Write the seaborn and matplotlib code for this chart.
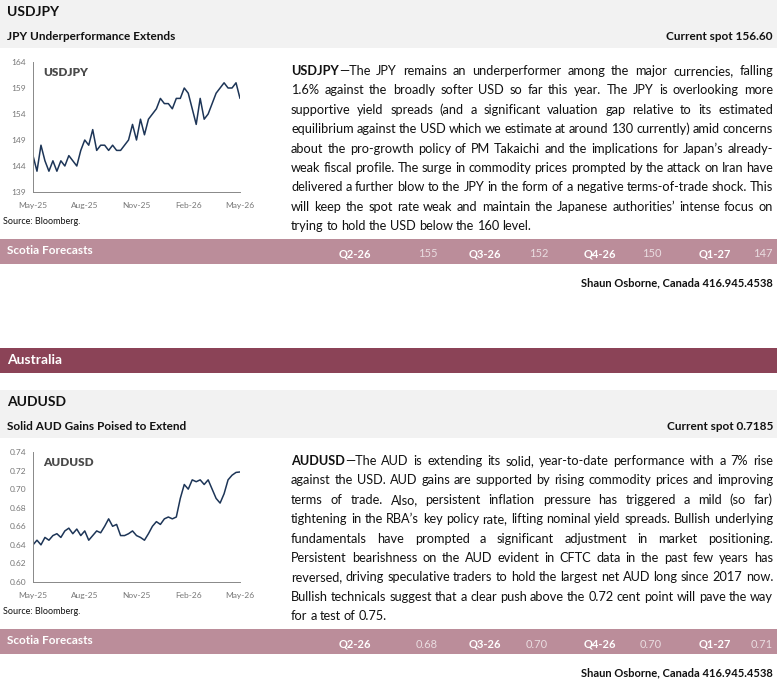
import matplotlib
matplotlib.use("Agg")
import matplotlib.pyplot as plt
import seaborn as sns
import numpy as np
import pandas as pd
from matplotlib.patches import Rectangle

sns.set_theme(style="white")
plt.rcParams['font.family'] = ['Lato', 'DejaVu Sans']

W, H = 777, 683
usdjpy = [146,143,148,145,143,145,143,145,144,146,145,144,147,149,148,151,147,148,148,147,148,147,147,148,149,152,
          149,153,150,153,154,155,157,156,156,155,157,157,159,158,155,152,157,153,154,156,158,159,160,159,159,160,157]
audusd = [0.640,0.645,0.640,0.648,0.645,0.650,0.652,0.648,0.655,0.658,0.652,0.657,0.650,0.655,0.645,0.650,0.655,0.653,
          0.660,0.668,0.660,0.662,0.650,0.650,0.652,0.655,0.650,0.648,0.645,0.652,0.660,0.665,0.662,0.668,0.670,0.668,
          0.670,0.690,0.705,0.700,0.710,0.708,0.710,0.705,0.710,0.700,0.690,0.685,0.695,0.710,0.715,0.718,0.7185]
xlabels = ["May-25", "Aug-25", "Nov-25", "Feb-26", "May-26"]
jpy_ticks = [139, 144, 149, 154, 159, 164]
aud_ticks = [0.60, 0.62, 0.64, 0.66, 0.68, 0.70, 0.72, 0.74]
quarters = ["Q2-26", "Q3-26", "Q4-26", "Q1-27"]
jpy_fc = ["155", "152", "150", "147"]
aud_fc = ["0.68", "0.70", "0.70", "0.71"]

jpy_text = [
 "USDJPY—The JPY remains an underperformer among the major currencies, falling",
 "1.6% against the broadly softer USD so far this year. The JPY is overlooking more",
 "supportive yield spreads (and a significant valuation gap relative to its estimated",
 "equilibrium against the USD which we estimate at around 130 currently) amid concerns",
 "about the pro-growth policy of PM Takaichi and the implications for Japan’s already-",
 "weak fiscal profile. The surge in commodity prices prompted by the attack on Iran have",
 "delivered a further blow to the JPY in the form of a negative terms-of-trade shock. This",
 "will keep the spot rate weak and maintain the Japanese authorities’ intense focus on",
 "trying to hold the USD below the 160 level."]
aud_text = [
 "AUDUSD—The AUD is extending its solid, year-to-date performance with a 7% rise",
 "against the USD. AUD gains are supported by rising commodity prices and improving",
 "terms of trade. Also, persistent inflation pressure has triggered a mild (so far)",
 "tightening in the RBA’s key policy rate, lifting nominal yield spreads. Bullish underlying",
 "fundamentals have prompted a significant adjustment in market positioning.",
 "Persistent bearishness on the AUD evident in CFTC data in the past few years has",
 "reversed, driving speculative traders to hold the largest net AUD long since 2017 now.",
 "Bullish technicals suggest that a clear push above the 0.72 cent point will pave the way",
 "for a test of 0.75."]

fig = plt.figure(figsize=(W/100, H/100), dpi=100)
fig.patch.set_facecolor("white")
fig.canvas.draw()
R = fig.canvas.get_renderer()

def fx(x): return x / W
def fy(y): return 1 - y / H

def band(y0, y1, color):
    fig.patches.append(Rectangle((0, fy(y1)), 1, (y1 - y0) / H, transform=fig.transFigure,
                                 facecolor=color, edgecolor="none", zorder=0))

def txt(x, y, s, **kw):
    kw.setdefault("va", "center")
    return fig.text(fx(x), fy(y), s, **kw)

TXT = "#111111"
def justify(lines, x0, x1, y0, dy, bold_head, fs=9.2):
    for i, line in enumerate(lines):
        y = y0 + i * dy
        words = line.split(" ")
        last = (i == len(lines) - 1)
        arts = []
        widths = []
        for j, w in enumerate(words):
            if i == 0 and j == 0:
                t1 = txt(x0, y, bold_head, fontsize=fs, fontweight="bold", color=TXT)
                w1 = t1.get_window_extent(R).width
                t2 = txt(x0 + w1, y, w[len(bold_head):], fontsize=fs, color=TXT)
                w2 = t2.get_window_extent(R).width
                arts.append([(t1, 0), (t2, w1)])
                widths.append(w1 + w2)
            else:
                t = txt(x0, y, w, fontsize=fs, color=TXT)
                arts.append([(t, 0)])
                widths.append(t.get_window_extent(R).width)
        total = sum(widths)
        space = 3.0 if last else (x1 - x0 - total) / max(len(words) - 1, 1)
        x = x0
        for a, wd in zip(arts, widths):
            for t, off in a:
                t.set_x(fx(x + off))
            x += wd + space

def chart(rect, data, ticks, fmt, name):
    l, t, r, b = rect
    ax = fig.add_axes([fx(l), fy(b), fx(r - l), (b - t) / H])
    df = pd.DataFrame({"x": np.arange(len(data)), "v": data})
    sns.lineplot(data=df, x="x", y="v", ax=ax, color="#1d3557", linewidth=1.1)
    ax.set_ylim(ticks[0], ticks[-1])
    ax.set_xlim(0, len(data) - 1)
    ax.set_yticks(ticks)
    ax.set_yticklabels([fmt(v) for v in ticks])
    ax.set_xticks(np.linspace(0, len(data) - 1, len(xlabels)))
    ax.set_xticklabels(xlabels)
    ax.set_xlabel(""); ax.set_ylabel("")
    for s in ["top", "right"]:
        ax.spines[s].set_visible(False)
    for s in ["left", "bottom"]:
        ax.spines[s].set_color("#888888"); ax.spines[s].set_linewidth(0.7)
    ax.tick_params(axis="both", labelsize=6, colors="#777777", length=3, width=0.6, direction="out", pad=2)
    ax.tick_params(axis="x", pad=4)
    ax.text(0.05, 0.96, name, transform=ax.transAxes, fontsize=8.5, fontweight="heavy",
            color="#4a4a4a", va="top")
    ax.set_facecolor("white")

GRAY = "#f2f2f2"; PINK = "#bb8d9a"; MAROON = "#8b4357"

def section(top, title, sub, spot, text, bold, fc, chart_data, ticks, fmt, name):
    band(top, top + 48, GRAY)
    txt(7, top + 12, title, fontsize=10, fontweight="bold", color=TXT)
    txt(7, top + 37, sub, fontsize=8.5, fontweight="bold", color=TXT)
    txt(773, top + 37, spot, fontsize=8.5, fontweight="bold", color=TXT, ha="right")
    chart((33, top + 62, 240, top + 192), chart_data, ticks, fmt, name)
    txt(3, top + 222, "Source: Bloomberg.", fontsize=6.5, color=TXT)
    justify(text, 291, 773, top + 71, 19.4, bold)
    band(top + 239, top + 264, PINK)
    txt(7, top + 251, "Scotia Forecasts", fontsize=8.5, fontweight="bold", color="white")
    qx = [355, 485, 600, 715]
    vx = [438, 548, 662, 773]
    for q, v, a, b in zip(quarters, fc, qx, vx):
        txt(a, top + 254, q, fontsize=8, fontweight="bold", color="white", ha="center")
        txt(b, top + 254, v, fontsize=8, color="#eadde1", ha="right")
    txt(773, top + 283, "Shaun Osborne, Canada 416.945.4538", fontsize=8, fontweight="bold", color=TXT, ha="right")

section(0, "USDJPY", "JPY Underperformance Extends", "Current spot 156.60", jpy_text, "USDJPY",
        jpy_fc, usdjpy, jpy_ticks, lambda v: f"{v:d}", "USDJPY")
band(348, 373, MAROON)
txt(7, 360, "Australia", fontsize=10, fontweight="bold", color="white")
section(390, "AUDUSD", "Solid AUD Gains Poised to Extend", "Current spot 0.7185", aud_text, "AUDUSD",
        aud_fc, audusd, aud_ticks, lambda v: f"{v:.2f}", "AUDUSD")

fig.savefig("out.png", dpi=100, facecolor="white")
